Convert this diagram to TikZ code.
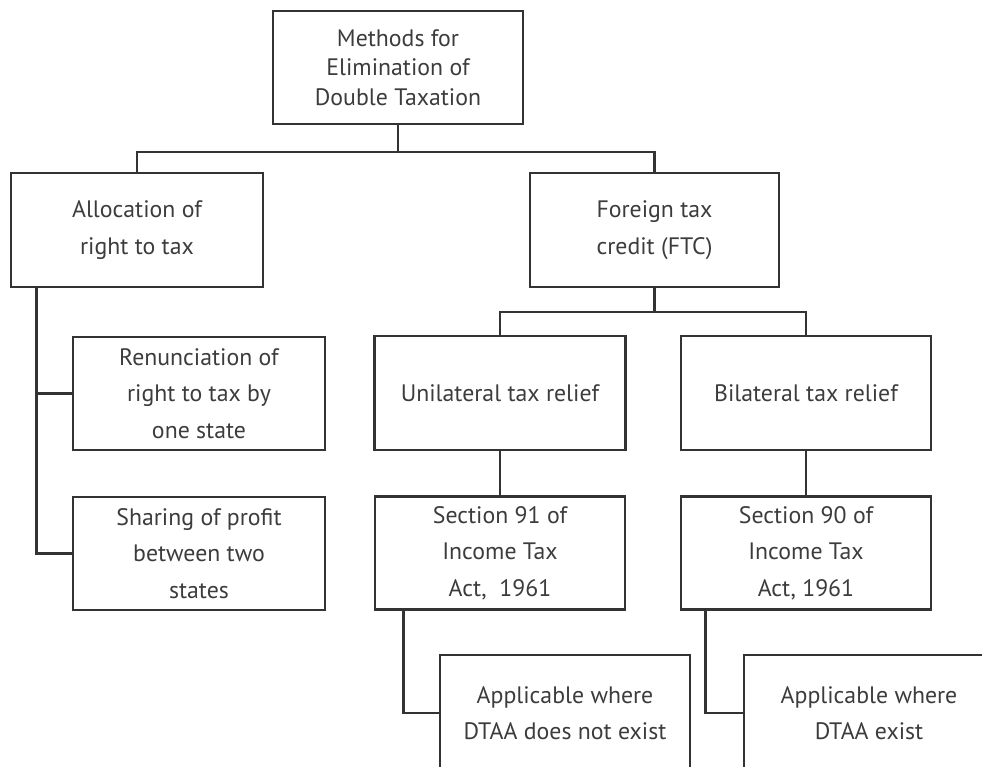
\documentclass[tikz,border=0pt]{standalone}
\usepackage{fontspec}
\setmainfont{PT Sans}
\usepackage{xcolor}
\usepackage{tikz}
\usetikzlibrary{positioning,calc}
\definecolor{linegray}{HTML}{333333}
\definecolor{textgray}{HTML}{3C3C3C}

\begin{document}
\begin{tikzpicture}[y=-1pt,x=1pt,
	box/.style={draw=linegray, line width=2.6pt, text=textgray, align=center, inner sep=0pt,
		minimum width=250pt, minimum height=113pt, font=\fontsize{23.8}{36.5}\selectfont},
	link/.style={draw=linegray, line width=2.6pt}]
	\useasboundingbox (0,0) rectangle (982,767);
	\clip (0,0) rectangle (982,767);

	\node[box, font=\fontsize{23.8}{29.5}\selectfont] (root) at (398,67.5) {Methods for\\Elimination of\\Double Taxation};
	\node[box, minimum width=252pt, minimum height=114pt] (alloc) at (137,230) {Allocation of\\right to tax};
	\node[box, minimum width=249pt, minimum height=114pt] (ftc) at (654.5,230) {Foreign tax\\credit (FTC)};

	\node[box, minimum width=252pt] (renun) at (199,393.5) {Renunciation of\\right to tax by\\one state};
	\node[box, minimum width=252pt] (share) at (199,553.5) {Sharing of profit\\between two\\states};

	\node[box, minimum width=251pt, minimum height=114pt] (uni) at (500,393) {Unilateral tax relief};
	\node[box, minimum height=114pt] (bi) at (806,393) {Bilateral tax relief};
	\node[box] (sec91) at (500,553) {Section 91 of\\Income Tax\\Act,\ \ 1961};
	\node[box] (sec90) at (806,553) {Section 90 of\\Income Tax\\Act, 1961};

	\node[box, minimum height=116pt] (app1) at (565,713) {Applicable where\\DTAA does not exist};
	\node[box, minimum height=116pt] (app2) at (869,713) {Applicable where\\DTAA exist};

	\coordinate (rootbar) at (398,152);
	\coordinate (ftcbar) at (654.5,312);

	\draw[link] (root) -- (rootbar);
	\draw[link] (alloc.north) |- (rootbar) -| (ftc.north);
	\draw[link] ([xshift=27pt]alloc.south west) |- (renun.west);
	\draw[link] ([xshift=27pt]alloc.south west) |- (share.west);

	\draw[link] (ftc) -- (ftcbar);
	\draw[link] (uni.north) |- (ftcbar) -| (bi.north);
	\draw[link] (uni) -- (sec91);
	\draw[link] (bi) -- (sec90);
	\draw[link] ([xshift=30pt]sec91.south west) |- (app1.west);
	\draw[link] ([xshift=26pt]sec90.south west) |- (app2.west);
\end{tikzpicture}
\end{document}
